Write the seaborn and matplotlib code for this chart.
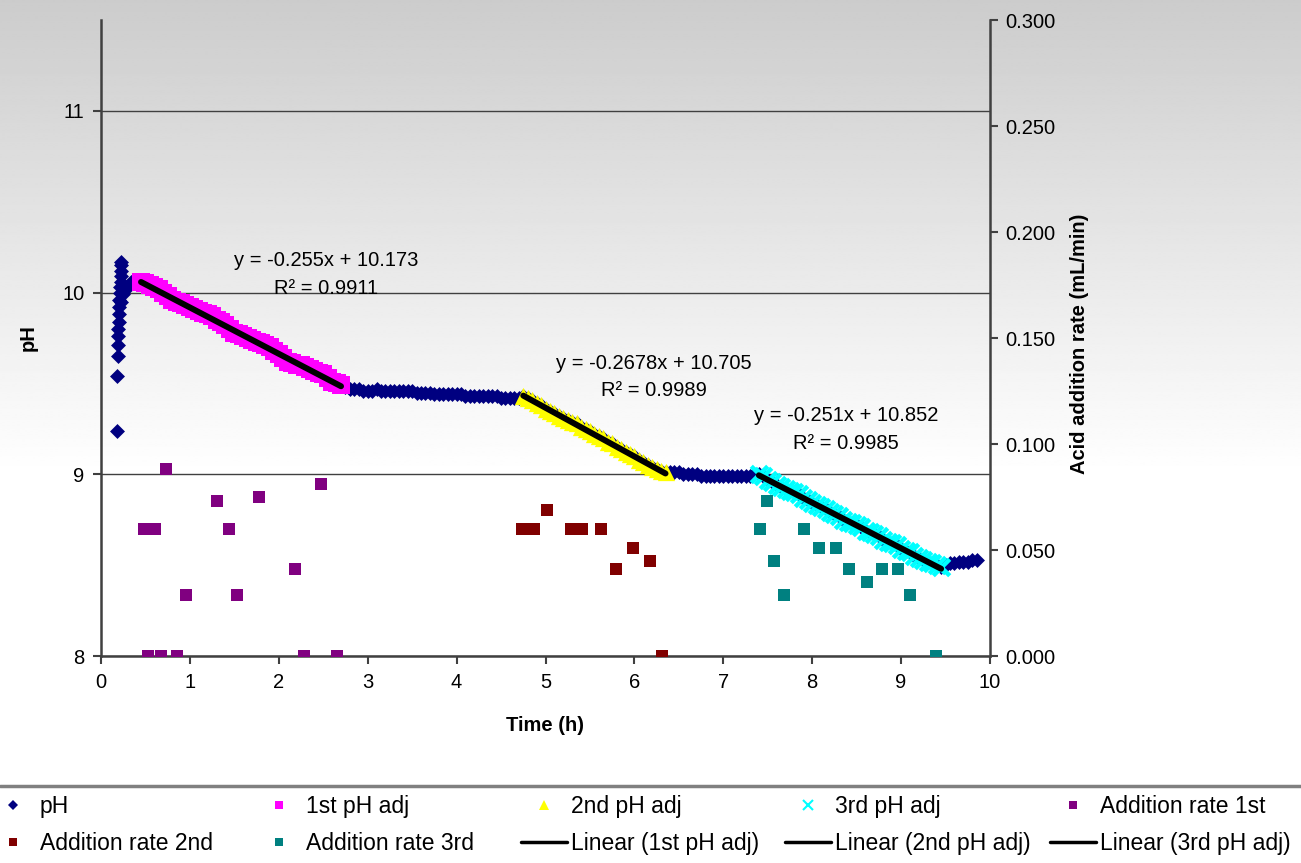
import numpy as np
import matplotlib
matplotlib.use("Agg")
import matplotlib.pyplot as plt
from matplotlib.lines import Line2D
import seaborn as sns

# ---------------- data ----------------
start_time = [0.18, 0.18, 0.19, 0.19, 0.19, 0.19, 0.20, 0.20, 0.20, 0.20, 0.21, 0.21,
              0.22, 0.22, 0.22, 0.23, 0.23, 0.23, 0.25, 0.28, 0.31, 0.34, 0.37, 0.40, 0.43]
start_ph = [9.24, 9.54, 9.65, 9.71, 9.76, 9.80, 9.84, 9.88, 9.92, 9.96, 10.00, 10.03,
            10.06, 10.09, 10.12, 10.15, 10.17, 9.95, 9.99, 10.02, 10.04, 10.06, 10.07, 10.07, 10.06]

adj1_time = [0.45, 0.50, 0.55, 0.60, 0.65, 0.70, 0.75, 0.80, 0.85, 0.90, 0.95, 1.00,
             1.05, 1.10, 1.15, 1.20, 1.25, 1.30, 1.35, 1.40, 1.45, 1.50, 1.55, 1.60,
             1.65, 1.70, 1.75, 1.80, 1.85, 1.90, 1.95, 2.00, 2.05, 2.10, 2.15, 2.20,
             2.25, 2.30, 2.35, 2.40, 2.45, 2.50, 2.55, 2.60, 2.65, 2.70]
adj1_ph = [10.06, 10.05, 10.04, 10.03, 10.02, 10.00, 9.98, 9.96, 9.95, 9.94, 9.93, 9.92,
           9.91, 9.90, 9.89, 9.88, 9.87, 9.85, 9.84, 9.82, 9.80, 9.78, 9.77, 9.76,
           9.75, 9.74, 9.73, 9.72, 9.71, 9.70, 9.68, 9.66, 9.64, 9.62, 9.61, 9.60,
           9.60, 9.59, 9.58, 9.57, 9.56, 9.55, 9.53, 9.51, 9.50, 9.49]

flat1_time = [2.75, 2.80, 2.85, 2.90, 2.95, 3.00, 3.05, 3.10, 3.15, 3.20, 3.25, 3.30,
              3.35, 3.40, 3.45, 3.50, 3.55, 3.60, 3.65, 3.70, 3.75, 3.80, 3.85, 3.90,
              3.95, 4.00, 4.05, 4.10, 4.15, 4.20, 4.25, 4.30, 4.35, 4.40, 4.45, 4.50,
              4.55, 4.60, 4.65, 4.70]
flat1_ph = [9.48, 9.47, 9.47, 9.47, 9.46, 9.46, 9.46, 9.47, 9.46, 9.46, 9.46, 9.46,
            9.46, 9.46, 9.46, 9.46, 9.45, 9.45, 9.45, 9.45, 9.44, 9.44, 9.44, 9.44,
            9.44, 9.44, 9.44, 9.43, 9.43, 9.43, 9.43, 9.43, 9.43, 9.43, 9.43, 9.42,
            9.42, 9.42, 9.42, 9.42]

adj2_time = [4.75, 4.80, 4.85, 4.90, 4.95, 5.00, 5.05, 5.10, 5.15, 5.20, 5.25, 5.30,
             5.35, 5.40, 5.45, 5.50, 5.55, 5.60, 5.65, 5.70, 5.75, 5.80, 5.85, 5.90,
             5.95, 6.00, 6.05, 6.10, 6.15, 6.20, 6.25, 6.30, 6.35]
adj2_ph = [9.43, 9.42, 9.41, 9.39, 9.38, 9.36, 9.35, 9.34, 9.32, 9.31, 9.30, 9.29,
           9.28, 9.26, 9.25, 9.24, 9.22, 9.21, 9.20, 9.18, 9.17, 9.15, 9.14, 9.12,
           9.11, 9.10, 9.08, 9.07, 9.05, 9.04, 9.03, 9.02, 9.01]

flat2_time = [6.40, 6.45, 6.50, 6.55, 6.60, 6.65, 6.70, 6.75, 6.80, 6.85, 6.90, 6.95,
              7.00, 7.05, 7.10, 7.15, 7.20, 7.25, 7.30, 7.35]
flat2_ph = [9.01, 9.01, 9.01, 9.00, 9.00, 9.00, 9.00, 8.99, 8.99, 8.99, 8.99, 8.99,
            8.99, 8.99, 8.99, 8.99, 8.99, 8.99, 8.99, 9.00]

adj3_time = [7.40, 7.45, 7.50, 7.55, 7.60, 7.65, 7.70, 7.75, 7.80, 7.85, 7.90, 7.95,
             8.00, 8.05, 8.10, 8.15, 8.20, 8.25, 8.30, 8.35, 8.40, 8.45, 8.50, 8.55,
             8.60, 8.65, 8.70, 8.75, 8.80, 8.85, 8.90, 8.95, 9.00, 9.05, 9.10, 9.15,
             9.20, 9.25, 9.30, 9.35, 9.40, 9.45]
adj3_ph = [9.00, 8.99, 8.97, 8.96, 8.94, 8.93, 8.92, 8.91, 8.90, 8.89, 8.87, 8.86,
           8.84, 8.83, 8.82, 8.81, 8.79, 8.78, 8.77, 8.75, 8.74, 8.73, 8.72, 8.71,
           8.69, 8.68, 8.67, 8.66, 8.64, 8.63, 8.62, 8.61, 8.59, 8.58, 8.57, 8.55,
           8.54, 8.53, 8.52, 8.51, 8.50, 8.49]

end_time = [9.50, 9.55, 9.60, 9.65, 9.70, 9.75, 9.80, 9.85]
end_ph = [8.50, 8.51, 8.51, 8.52, 8.52, 8.52, 8.53, 8.53]

rate1_time = [0.48, 0.61, 0.73, 0.53, 0.67, 0.86, 0.96, 1.30, 1.44, 1.53, 1.78, 2.18, 2.28, 2.47, 2.66]
rate1_val = [0.060, 0.060, 0.088, 0.0, 0.0, 0.0, 0.029, 0.073, 0.060, 0.029, 0.075, 0.041, 0.0, 0.081, 0.0]

rate2_time = [4.74, 4.87, 5.02, 5.29, 5.41, 5.62, 5.79, 5.98, 6.17, 6.31]
rate2_val = [0.060, 0.060, 0.069, 0.060, 0.060, 0.060, 0.041, 0.051, 0.045, 0.0]

rate3_time = [7.41, 7.49, 7.57, 7.68, 7.91, 8.08, 8.27, 8.41, 8.62, 8.79, 8.96, 9.10, 9.39]
rate3_val = [0.060, 0.073, 0.045, 0.029, 0.060, 0.051, 0.051, 0.041, 0.035, 0.041, 0.041, 0.029, 0.0]

fit_slopes = [-0.255, -0.2678, -0.251]
fit_intercepts = [10.173, 10.705, 10.852]
fit_r2 = ["0.9911", "0.9989", "0.9985"]
eq_pos = [(2.53, 10.177, 10.022), (6.22, 9.608, 9.459), (8.38, 9.326, 9.171)]

ph_time = start_time + adj1_time + flat1_time + adj2_time + flat2_time + adj3_time + end_time
ph_val = start_ph + adj1_ph + flat1_ph + adj2_ph + flat2_ph + adj3_ph + end_ph

# ---------------- style ----------------
sns.set_style("white")
plt.rcParams["font.family"] = ["Liberation Sans", "DejaVu Sans"]
plt.rcParams["text.color"] = "black"
plt.rcParams["axes.labelcolor"] = "black"
plt.rcParams["xtick.color"] = "black"
plt.rcParams["ytick.color"] = "black"
FS = 14.5

W, H = 1301, 863
fig = plt.figure(figsize=(W / 100, H / 100), dpi=100)

# gradient background
bg = fig.add_axes([0, 0, 1, 1], zorder=-10)
g = np.linspace(0, 1, 500)
vals = np.clip(0.80 + 0.20 * g / 0.55, 0, 1)
bg.imshow(np.repeat(vals[:, None], 2, axis=1), cmap="gray", vmin=0, vmax=1,
          aspect="auto", extent=[0, 1, 0, 1], origin="upper", interpolation="bilinear")
bg.set_axis_off()

ax = fig.add_axes([101 / W, 1 - 656 / H, 889 / W, 636 / H])
ax.set_facecolor("none")
ax2 = ax.twinx()
ax2.set_facecolor("none")

NAVY, MAG, YEL, CYA = "#000080", "#FF00FF", "#FFFF00", "#00FFFF"
PUR, MAR, TEA = "#800080", "#800000", "#008080"

sns.scatterplot(x=ph_time, y=ph_val, ax=ax, marker="D", s=58, color=NAVY, linewidth=0, zorder=3)
sns.scatterplot(x=adj1_time, y=adj1_ph, ax=ax, marker="s", s=150, color=MAG, linewidth=0, zorder=4)
sns.scatterplot(x=adj2_time, y=adj2_ph, ax=ax, marker="^", s=155, color=YEL, linewidth=0, zorder=4)
sns.scatterplot(x=adj3_time, y=adj3_ph, ax=ax, marker="x", s=140, color=CYA, linewidth=3.2, zorder=4)

for (tt, a, b) in zip([adj1_time, adj2_time, adj3_time], fit_slopes, fit_intercepts):
    xs = [tt[0], tt[-1]]
    sns.lineplot(x=xs, y=[a * xs[0] + b, a * xs[1] + b], ax=ax, color="black",
                 linewidth=4.3, zorder=6)

for (a, b, r2, (ex, ey1, ey2)) in zip(fit_slopes, fit_intercepts, fit_r2, eq_pos):
    ax.text(ex, ey1, f"y = {a:g}x + {b:g}", ha="center", va="center", fontsize=FS,
            color="black", zorder=7)
    ax.text(ex, ey2, f"R\u00b2 = {r2}", ha="center", va="center", fontsize=FS,
            color="black", zorder=7)

sns.scatterplot(x=rate1_time, y=rate1_val, ax=ax2, marker="s", s=75, color=PUR, linewidth=0)
sns.scatterplot(x=rate2_time, y=rate2_val, ax=ax2, marker="s", s=75, color=MAR, linewidth=0)
sns.scatterplot(x=rate3_time, y=rate3_val, ax=ax2, marker="s", s=75, color=TEA, linewidth=0)

# axes
ax.set_xlim(0, 10)
ax.set_ylim(8, 11.5)
ax2.set_ylim(0, 0.3)
ax.set_xticks(range(0, 11))
ax.set_yticks([8, 9, 10, 11])
ax2.set_yticks([0, 0.05, 0.10, 0.15, 0.20, 0.25, 0.30])
ax2.set_yticklabels([f"{v:.3f}" for v in [0, 0.05, 0.10, 0.15, 0.20, 0.25, 0.30]])

SP = "#404040"
ax.yaxis.grid(True, color=SP, linewidth=1)
ax.xaxis.grid(False)
ax.set_axisbelow(True)
for a_ in (ax, ax2):
    for s in a_.spines.values():
        s.set_visible(False)
ax.spines["left"].set_visible(True)
ax.spines["bottom"].set_visible(True)
ax2.spines["right"].set_visible(True)
for s in (ax.spines["left"], ax.spines["bottom"], ax2.spines["right"]):
    s.set_color(SP)
    s.set_linewidth(1.8)

ax.tick_params(axis="x", bottom=True, direction="out", length=6, width=1.5, color=SP,
               labelsize=FS, labelcolor="black", pad=6)
ax.tick_params(axis="y", left=True, direction="out", length=6, width=1.5, color=SP,
               labelsize=FS, labelcolor="black", pad=6)
ax2.tick_params(axis="y", right=True, direction="out", length=6, width=1.5, color=SP,
                labelsize=FS, labelcolor="black", pad=5)

ax.set_xlabel("Time (h)", fontsize=FS, fontweight="bold", color="black")
ax.xaxis.set_label_coords(0.5, (656 - 716) / 636)
ax.set_ylabel("pH", fontsize=FS, fontweight="bold", color="black")
ax.yaxis.set_label_coords((38 - 101) / 889, 0.5)
ax2.set_ylabel("Acid addition rate (mL/min)", fontsize=FS, fontweight="bold", color="black")
ax2.yaxis.set_label_coords((1070 - 101) / 889, (656 - 344) / 636)

# separator line above legend
fig.add_artist(Line2D([0, 1], [1 - 786 / H] * 2, transform=fig.transFigure,
                      color="#808080", linewidth=2.5))

# legend (5 columns, 2 rows)
h_ph = Line2D([], [], marker="D", ls="none", color=NAVY, markersize=5.5, markeredgewidth=0)
h_a1 = Line2D([], [], marker="s", ls="none", color=MAG, markersize=6, markeredgewidth=0)
h_a2 = Line2D([], [], marker="^", ls="none", color=YEL, markersize=7, markeredgewidth=0)
h_a3 = Line2D([], [], marker="x", ls="none", color=CYA, markersize=7, markeredgewidth=1.5)
h_r1 = Line2D([], [], marker="s", ls="none", color=PUR, markersize=6, markeredgewidth=0)
h_r2 = Line2D([], [], marker="s", ls="none", color=MAR, markersize=6, markeredgewidth=0)
h_r3 = Line2D([], [], marker="s", ls="none", color=TEA, markersize=6, markeredgewidth=0)
h_ln = Line2D([], [], color="black", linewidth=2.5)

columns = [
    ([h_ph, h_r2], ["pH", "Addition rate 2nd"], 40),
    ([h_a1, h_r3], ["1st pH adj", "Addition rate 3rd"], 306),
    ([h_a2, h_ln], ["2nd pH adj", "Linear (1st pH adj)"], 571),
    ([h_a3, h_ln], ["3rd pH adj", "Linear (2nd pH adj)"], 835),
    ([h_r1, h_ln], ["Addition rate 1st", "Linear (3rd pH adj)"], 1100),
]
LFS = 16.5
fpx = LFS * 100 / 72
for handles, labels, tx in columns:
    leg = fig.legend(handles=handles, labels=labels, loc="center left",
                     bbox_to_anchor=((tx - 50) / W, 1 - 825 / H), frameon=False,
                     borderpad=0, borderaxespad=0, handlelength=46 / fpx,
                     handletextpad=4 / fpx, labelspacing=0.62, fontsize=LFS,
                     labelcolor="black")

fig.savefig("out.png", dpi=100)
